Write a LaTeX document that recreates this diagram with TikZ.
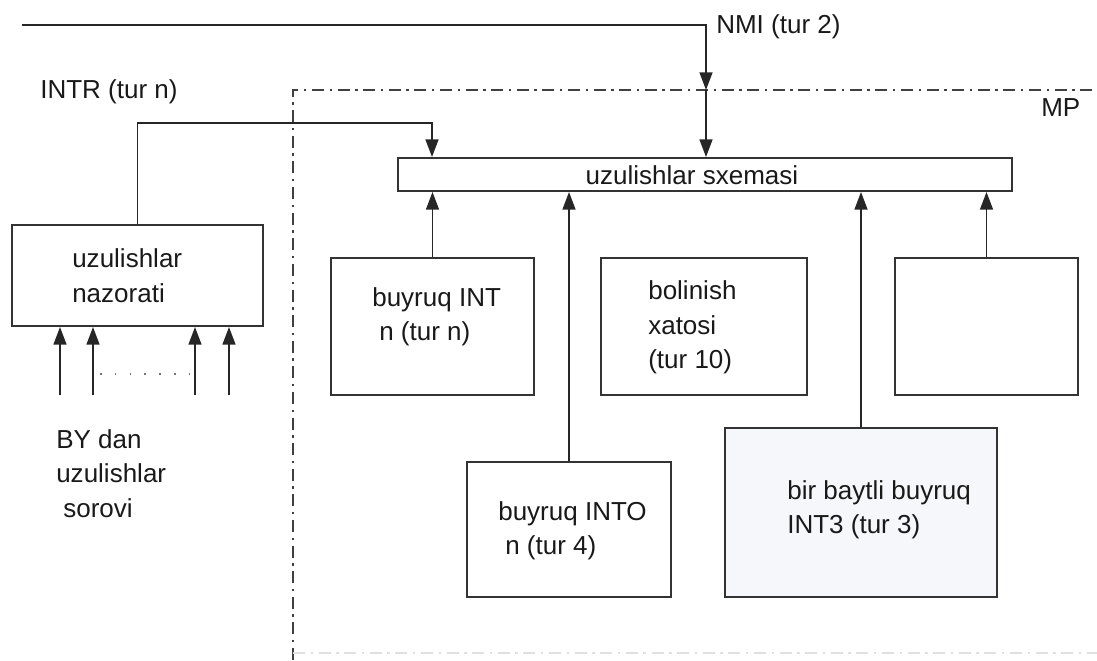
\documentclass[tikz,border=0pt]{standalone}
\usepackage{fontspec}
\setmainfont{Liberation Sans}
\usetikzlibrary{arrows.meta}
\definecolor{ochko}{rgb}{0.96,0.97,0.985}

\begin{document}
\begin{tikzpicture}[x=0.025cm, y=0.025cm]
		\tikzstyle{every node}+=[inner sep=0pt, font=\fontsize{18.5}{24.5}\selectfont]
		\tikzstyle{blok}=[draw=black!80, line width=1.35pt, rectangle]
		\tikzstyle{arr}=[draw=black!85, line width=1.35pt, -{Triangle[length=0.44cm,width=0.32cm]}]
		\tikzstyle{yozuv}=[align=left, anchor=west, text=black!90]
		\tikzstyle{chegara}=[line width=1.2pt, dash pattern=on 0.3cm off 0.14cm on 0.06cm off 0.14cm]
		\useasboundingbox (0,0) rectangle (1097,-660);
		\draw [chegara, black!75] (293,-660) -- (293,-90) -- (1097,-90);
		\draw [chegara, black!12] (293,-653) -- (1097,-653);
		\node [yozuv] (nmi) at (716,-27) {NMI (tur 2)};
		\node [yozuv] (intr) at (40,-92) {INTR (tur n)};
		\node [yozuv] (mp) at (1041,-108) {MP};
		\node [blok, minimum width=15.35cm, minimum height=0.825cm] (sxema) at (705,-174.5) {};
		\node [text=black!90] (tsxema) at (692,-175) {uzulishlar sxemasi};
		\node [blok, minimum width=6.275cm, minimum height=2.525cm] (nazorat) at (137.5,-275.5) {};
		\node [yozuv] (tnazorat) at (72,-275.5) {uzulishlar\\nazorati};
		\node [blok, minimum width=5.075cm, minimum height=3.425cm] (intn) at (432.5,-326.5) {};
		\node [yozuv] (tintn) at (372,-316.5) {buyruq INT\\\hspace{5pt}n (tur n)};
		\node [blok, minimum width=5.15cm, minimum height=3.425cm] (bolin) at (704,-326.5) {};
		\node [yozuv] (tbolin) at (648,-327.5) {bolinish\\xatosi\\(tur 10)};
		\node [blok, minimum width=4.575cm, minimum height=3.425cm] (bosh) at (986.5,-326.5) {};
		\node [blok, minimum width=5.1cm, minimum height=3.375cm] (into) at (569,-529.5) {};
		\node [yozuv] (tinto) at (498,-530.5) {buyruq INTO\\\hspace{5pt}n (tur 4)};
		\node [blok, fill=ochko, minimum width=6.8cm, minimum height=4.225cm] (int3) at (861,-512.5) {};
		\node [yozuv] (tint3) at (787,-510) {bir baytli buyruq\\INT3 (tur 3)};
		\node [yozuv] (tsorov) at (56,-473.5) {BY dan\\uzulishlar\\\hspace{5pt}sorovi};
		\coordinate (nmi0) at (22,-25);
		\coordinate (nmi1) at (706,-90);
		\draw [arr] (nmi0) -| (nmi1);
		\draw [arr] (nmi1) -- (nmi1 |- sxema.north);
		\coordinate (intr0) at (432,-123);
		\draw [arr] (nazorat.north) |- (intr0) -- (intr0 |- sxema.north);
		\draw [arr] (intn.north) -- (intn.north |- sxema.south);
		\draw [arr] (into.north) -- (into.north |- sxema.south);
		\draw [arr] (int3.north) -- (int3.north |- sxema.south);
		\draw [arr] (bosh.north) -- (bosh.north |- sxema.south);
		\foreach \i/\x in {1/60, 2/93, 3/195, 4/229} {
			\coordinate (so\i) at (\x,-395);
			\draw [arr] (so\i) -- (so\i |- nazorat.south);
		}
		\draw [black!55, line width=1pt, dash pattern=on 0.04cm off 0.33cm] (100,-374) -- (192,-374);
	\end{tikzpicture}
\end{document}
